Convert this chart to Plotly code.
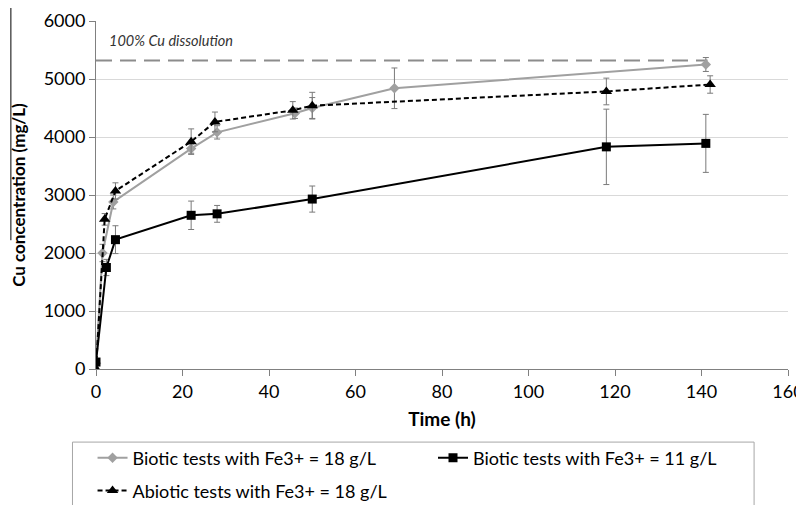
import plotly.graph_objects as go

# ---- data ----
bio18_x = [0, 1.5, 4, 22, 28, 46, 50, 69, 141]
bio18_y = [100, 2000, 2880, 3800, 4080, 4410, 4500, 4840, 5250]
bio18_err = [50, 150, 120, 80, 115, 90, 180, 350, 120]

bio11_x = [0, 2.4, 4.5, 22, 28, 50, 118, 141]
bio11_y = [120, 1750, 2230, 2650, 2675, 2930, 3830, 3890]
bio11_err = [50, 140, 240, 245, 145, 225, 650, 500]

abio18_x = [0, 2, 4.5, 22, 27.5, 45.5, 50, 118, 142]
abio18_y = [0, 2580, 3070, 3920, 4260, 4460, 4540, 4785, 4905]
abio18_err = [30, 100, 140, 220, 170, 150, 230, 230, 150]

full_dissolution_x = [0, 141.4]
full_dissolution_y = [5320, 5320]

x_ticks = [0, 20, 40, 60, 80, 100, 120, 140, 160]
y_ticks = [0, 1000, 2000, 3000, 4000, 5000, 6000]

FONT = "Lato"
ERR_COLOR = "#7a7a7a"

fig = go.Figure()

fig.add_trace(go.Scatter(
    x=full_dissolution_x, y=full_dissolution_y, mode="lines",
    line=dict(color="#8c8c8c", width=2, dash="16px,8px"),
    showlegend=False, hoverinfo="skip"))

def err(vals):
    return dict(type="data", array=vals, visible=True, color=ERR_COLOR,
                thickness=1, width=3)

fig.add_trace(go.Scatter(
    x=bio18_x, y=bio18_y, mode="lines+markers",
    name="Biotic tests with Fe3+ = 18 g/L", legend="legend",
    line=dict(color="#a0a0a0", width=2),
    marker=dict(symbol="diamond", size=8, color="#a0a0a0"),
    error_y=err(bio18_err)))

fig.add_trace(go.Scatter(
    x=bio11_x, y=bio11_y, mode="lines+markers",
    name="Biotic tests with Fe3+ = 11 g/L", legend="legend2",
    line=dict(color="#000000", width=2),
    marker=dict(symbol="square", size=9, color="#000000"),
    error_y=err(bio11_err)))

fig.add_trace(go.Scatter(
    x=abio18_x, y=abio18_y, mode="lines+markers",
    name="Abiotic tests with Fe3+ = 18 g/L", legend="legend3",
    line=dict(color="#000000", width=2, dash="5px,3px"),
    marker=dict(symbol="triangle-up", size=10, color="#000000"),
    error_y=err(abio18_err)))

fig.add_annotation(
    x=0.016, y=5660, xref="paper", yref="y", xanchor="left", yanchor="middle",
    text="<i>100% Cu dissolution</i>", showarrow=False,
    font=dict(family=FONT, size=14.5, color="#333333"))

# legend frame
fig.add_shape(type="rect", xref="paper", yref="paper",
              x0=-0.034, x1=0.951, y0=-0.45, y1=-0.21,
              line=dict(color="#a6a6a6", width=1), fillcolor="rgba(0,0,0,0)")

# line left of the y-axis title
fig.add_shape(type="line", xref="paper", yref="paper",
              x0=-0.123, x1=-0.123, y0=0.37, y1=1.04,
              line=dict(color="#000000", width=1))

leg_common = dict(orientation="h", xanchor="left", yanchor="middle",
                  font=dict(family=FONT, size=18), bgcolor="rgba(0,0,0,0)")

# the page body adds an 8px offset, so the figure is sized to fit the
# window and margins place the plot area at about x 96-788, y 21-369
fig.update_layout(
    width=796, height=497,
    margin=dict(l=88, r=16, t=13, b=136, autoexpand=False),
    paper_bgcolor="white", plot_bgcolor="white",
    font=dict(family=FONT, size=18, color="#000000"),
    legend=dict(x=-0.005, y=-0.256, **leg_common),
    legend2=dict(x=0.487, y=-0.256, **leg_common),
    legend3=dict(x=-0.005, y=-0.35, **leg_common),
    xaxis=dict(range=[0, 160], tickvals=x_ticks, showgrid=False, zeroline=False,
               showline=True, linecolor="#808080", linewidth=1,
               ticks="outside", ticklen=6, tickcolor="#808080",
               ticklabeloverflow="allow",
               title=dict(text="<b>Time (h)</b>", font=dict(size=19), standoff=12)),
    yaxis=dict(range=[0, 6000], tickvals=y_ticks, showgrid=True, gridcolor="#d9d9d9",
               gridwidth=1, zeroline=False, showline=True, linecolor="#808080",
               linewidth=1, ticks="outside", ticklen=6, tickcolor="#808080",
               ticklabeloverflow="allow",
               title=dict(text="<b>Cu concentration (mg/L)</b>", font=dict(size=17),
                          standoff=14)),
)

fig.write_html("out.html")
